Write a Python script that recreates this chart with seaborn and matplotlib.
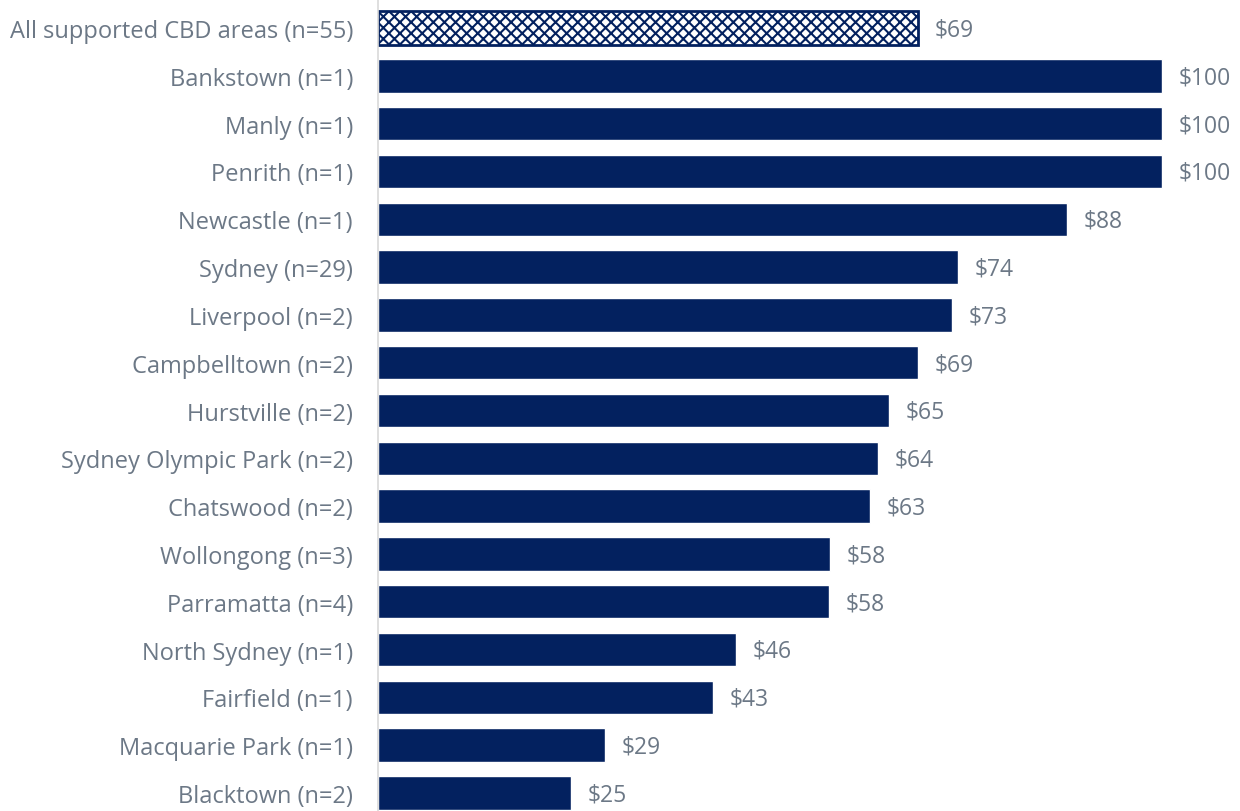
import matplotlib
matplotlib.use("Agg")
import matplotlib.pyplot as plt
import seaborn as sns
import pandas as pd

categories = [
    "All supported CBD areas (n=55)",
    "Bankstown (n=1)",
    "Manly (n=1)",
    "Penrith (n=1)",
    "Newcastle (n=1)",
    "Sydney (n=29)",
    "Liverpool (n=2)",
    "Campbelltown (n=2)",
    "Hurstville (n=2)",
    "Sydney Olympic Park (n=2)",
    "Chatswood (n=2)",
    "Wollongong (n=3)",
    "Parramatta (n=4)",
    "North Sydney (n=1)",
    "Fairfield (n=1)",
    "Macquarie Park (n=1)",
    "Blacktown (n=2)",
]
values = [68.9, 100, 100, 100, 87.9, 74.0, 73.2, 68.9, 65.2, 63.8, 62.8,
          57.7, 57.5, 45.7, 42.7, 29.0, 24.6]

NAVY = "#03215F"
GREY = "#6C7886"

sns.set_theme(style="white")
plt.rcParams["font.family"] = ["Open Sans", "DejaVu Sans"]
plt.rcParams["hatch.linewidth"] = 1.5
plt.rcParams["hatch.color"] = NAVY

df = pd.DataFrame({"area": categories, "value": values})

fig = plt.figure(figsize=(12.4, 8.12), dpi=100)
W, H = 1240, 812
ax = fig.add_axes([378 / W, 0, (W - 378) / W, 1])

sns.barplot(data=df, x="value", y="area", orient="h", color=NAVY,
            saturation=1, width=0.7, ax=ax)

# Highlight the overall average with a hatched, outlined bar
first = ax.patches[0]
first.set_facecolor("white")
first.set_edgecolor(NAVY)
first.set_hatch("xxx")
first.set_linewidth(2)

for p, v in zip(ax.patches, values):
    y = p.get_y() + p.get_height() / 2
    ax.annotate(f"${v:.0f}", xy=(p.get_width(), y), xytext=(12, -1),
                textcoords="offset points", va="center", ha="left",
                fontsize=16.5, color=GREY)

spacing = (794 - 29) / 16
ax.set_ylim(16 + (H - 794) / spacing, -29 / spacing)
ax.set_xlim(0, (W - 378) / 7.84)

ax.set_xlabel("")
ax.set_ylabel("")
ax.set_xticks([])
ax.tick_params(axis="y", length=0, pad=18, labelsize=17, labelcolor=GREY)
for s in ["top", "right", "bottom"]:
    ax.spines[s].set_visible(False)
ax.spines["left"].set_color("#D9D9D9")
ax.spines["left"].set_linewidth(1.2)

fig.savefig("out.png", dpi=100)
